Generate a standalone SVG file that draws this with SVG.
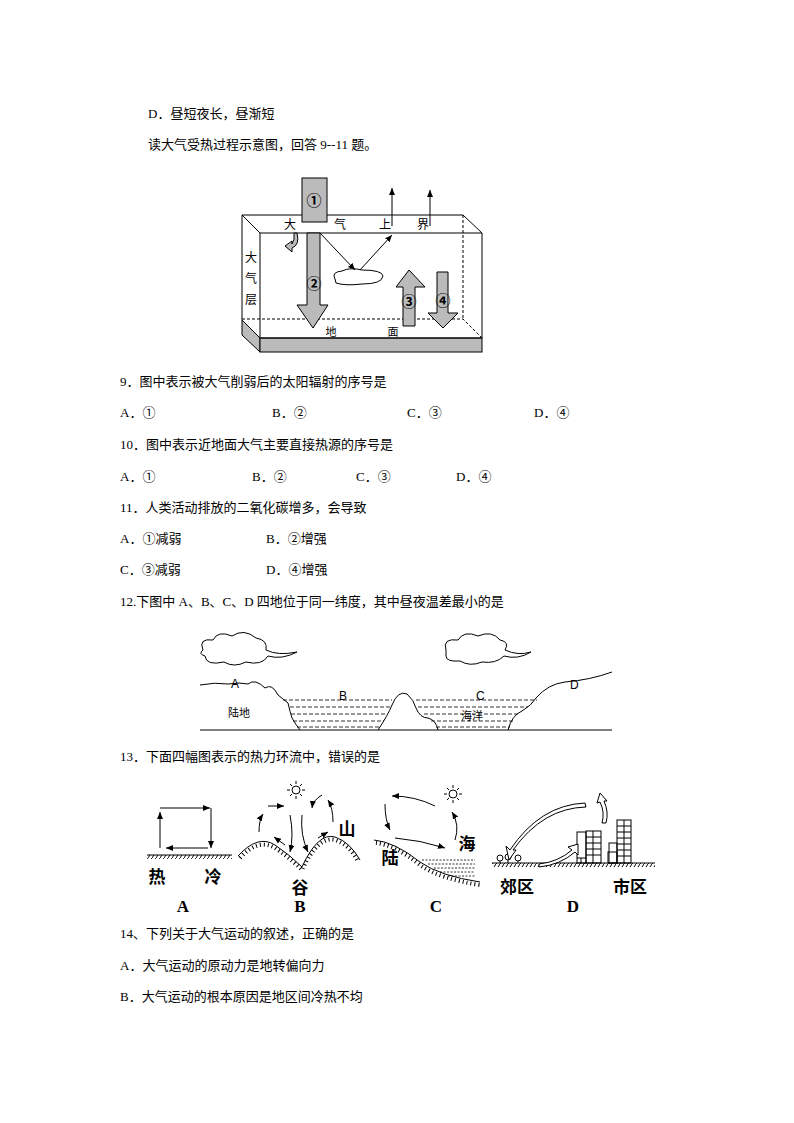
<svg xmlns="http://www.w3.org/2000/svg" width="794" height="1123" viewBox="0 0 794 1123">
<defs>
<style>
.t{font-family:"Liberation Serif","Noto Sans CJK SC",serif;font-size:13px;fill:#000}
.s{font-family:"Liberation Sans","Noto Sans CJK SC",sans-serif;fill:#000}
.b{font-family:"Liberation Serif","Noto Sans CJK SC",serif;font-weight:bold;fill:#000}
.l{fill:none;stroke:#000;stroke-width:1}
.g{fill:#bbb;stroke:#000;stroke-width:1}
.h{fill:none;stroke:#000;stroke-width:4;stroke-dasharray:1,3}
</style>
<marker id="ah" markerWidth="8" markerHeight="8" refX="7" refY="4" orient="auto" markerUnits="userSpaceOnUse"><path d="M0,1 L7,4 L0,7 z" fill="#000"/></marker>
<pattern id="hat" width="4" height="6" patternUnits="userSpaceOnUse"><path d="M0,6 L4,0" stroke="#000" stroke-width="1"/></pattern>
</defs>
<rect width="794" height="1123" fill="#fff"/>
<g id="texts">
<text class="t" x="148" y="118">D．昼短夜长，昼渐短</text>
<text class="t" x="148" y="149">读大气受热过程示意图，回答 9--11 题。</text>
<text class="t" x="120" y="386">9．图中表示被大气削弱后的太阳辐射的序号是</text>
<text class="t" x="120" y="417">A．①</text><text class="t" x="272" y="417">B．②</text><text class="t" x="407" y="417">C．③</text><text class="t" x="534" y="417">D．④</text>
<text class="t" x="120" y="449">10．图中表示近地面大气主要直接热源的序号是</text>
<text class="t" x="120" y="481">A．①</text><text class="t" x="252" y="481">B．②</text><text class="t" x="356" y="481">C．③</text><text class="t" x="456" y="481">D．④</text>
<text class="t" x="120" y="512">11．人类活动排放的二氧化碳增多，会导致</text>
<text class="t" x="120" y="543">A．①减弱</text><text class="t" x="266" y="543">B．②增强</text>
<text class="t" x="120" y="574">C．③减弱</text><text class="t" x="266" y="574">D．④增强</text>
<text class="t" x="120" y="606">12.下图中 A、B、C、D 四地位于同一纬度，其中昼夜温差最小的是</text>
<text class="t" x="120" y="761">13．下面四幅图表示的热力环流中，错误的是</text>
<text class="t" x="120" y="938">14、下列关于大气运动的叙述，正确的是</text>
<text class="t" x="120" y="970">A．大气运动的原动力是地转偏向力</text>
<text class="t" x="120" y="1001">B．大气运动的根本原因是地区间冷热不均</text>
</g>
<g id="fig1">
<path class="l" d="M242,215 L463,215 L482,233 L260,233 Z"/>
<path class="l" d="M242,215 L242,320 L260,338 L260,233"/>
<path d="M242,320 L260,338 L260,352 L242,335 Z" class="g"/>
<rect x="260" y="338" width="222" height="14" class="g"/>
<path class="l" d="M260,338 L482,338 L482,233"/>
<path class="l" stroke-dasharray="3,2" d="M242,319 L463,319 L482,338 M463,215 L463,319"/>
<rect x="302" y="178" width="25" height="44" class="g"/>
<path class="g" d="M307,233 L320,233 L320,305 L328,305 L313,328 L297,305 L307,305 Z"/>
<path class="g" d="M297,233 Q300,245 292,248 L292,252 L285,246 L292,241 L292,244 Q295,240 294,233 Z"/>
<path class="g" d="M403,326 L415,326 L415,287 L425,287 L409,270 L396,287 L403,287 Z"/>
<path class="g" d="M437,272 L448,272 L448,313 L458,313 L443,328 L428,313 L437,313 Z"/>
<path class="l" d="M320,233 L355,270" marker-end="url(#ah)"/>
<path class="l" d="M360,270 L392,235" marker-end="url(#ah)"/>
<path class="l" d="M392,226 L392,188" marker-end="url(#ah)"/>
<path class="l" stroke-width="2" d="M430,226 L430,190" marker-end="url(#ah)"/>
<path class="l" fill="#fff" d="M335,279 Q331,272 342,271 Q350,267 362,270 Q382,270 383,276 Q382,284 362,284 Q345,286 336,283 Z"/>
<g class="s" font-size="12" text-anchor="middle">
<text x="290" y="229">大</text><text x="340" y="229">气</text><text x="385" y="229">上</text><text x="423" y="229">界</text>
<text x="251" y="262">大</text><text x="251" y="283">气</text><text x="251" y="304">层</text>
<text x="331" y="336" font-size="11">地</text><text x="393" y="336" font-size="11">面</text>
<g font-size="15" font-weight="bold"><text x="314" y="206">①</text><text x="314" y="289">②</text><text x="409" y="307">③</text><text x="443" y="306">④</text></g>
</g>
</g>
<g id="fig2">
<path class="l" d="M203,650 Q198,638 213,640 Q218,630 232,636 Q244,628 256,638 Q268,640 266,650 Q278,656 297,652 Q282,660 268,656 Q262,666 246,662 Q234,668 224,662 Q206,666 205,656 Q198,654 203,650 Z"/>
<path class="l" d="M446,650 Q442,638 458,640 Q464,630 478,636 Q492,630 500,640 Q510,642 505,650 Q518,656 531,652 Q518,660 504,656 Q496,664 482,662 Q470,667 460,661 Q446,662 446,656 Z"/>
<path class="l" d="M200,730 L612,730" stroke="#555" stroke-width="1.5"/>
<path class="l" d="M200,685 Q215,682 228,684 Q240,682 248,684 Q255,678 265,688 Q272,683 278,695 L288,703 Q290,712 292,718 Q296,725 300,730"/>
<path class="l" d="M378,730 Q388,715 392,705 Q398,690 407,694 Q414,700 416,708 Q420,718 428,718 Q436,720 438,730"/>
<path class="l" d="M508,730 Q512,715 522,711 Q532,705 536,698 Q548,684 565,682 Q590,680 612,672"/>
<g stroke="#000" stroke-dasharray="4,2" stroke-width="0.8">
<path d="M283,700 L392,700 M416,700 L537,700 M290,707 L390,707 M418,707 L528,707 M291,714 L387,714 M424,714 L518,714 M293,721 L384,721 M431,721 L513,721 M297,727 L380,727 M436,727 L510,727"/>
</g>
<g class="s" font-size="12">
<text x="231" y="688">A</text><text x="339" y="700">B</text><text x="476" y="700">C</text><text x="570" y="689">D</text>
<text x="228" y="717" font-size="11">陆地</text><text x="461" y="720" font-size="11">海洋</text>
</g>
</g>
<g id="fig3">
<rect x="147" y="855" width="85" height="4" fill="url(#hat)"/><path class="l" d="M147,855 L232,855"/>
<path class="l" d="M160,848 L160,812" marker-end="url(#ah)"/>
<path class="l" d="M160,808 L210,808" marker-end="url(#ah)"/>
<path class="l" d="M211,808 L211,848" marker-end="url(#ah)"/>
<path class="l" stroke-width="2" d="M208,848 L166,848" marker-end="url(#ah)"/>
<g class="b" font-size="17" text-anchor="middle">
<text x="157" y="883">热</text><text x="213" y="883">冷</text><text x="183" y="912">A</text>
<text x="300" y="894">谷</text><text x="347" y="835">山</text><text x="300" y="912">B</text>
<text x="390" y="864">陆</text><text x="467" y="850">海</text><text x="436" y="912">C</text>
<text x="517" y="893">郊区</text><text x="630" y="893">市区</text><text x="573" y="912">D</text>
</g>
<path class="l" d="M238,856 Q258,834 275,845 Q290,855 302,867 Q318,832 335,837 Q350,842 360,860"/>
<path class="h" d="M240,858 Q258,838 275,848 Q290,858 302,870 Q318,836 335,840 Q350,845 358,862"/>
<g stroke="#000" fill="none">
<circle cx="296" cy="790" r="4"/>
<path d="M296,781 v3 M296,796 v3 M287,790 h3 M302,790 h3 M290,784 l2,2 M300,794 l2,2 M302,784 l-2,2 M290,796 l2,-2"/>
<circle cx="453" cy="794" r="4"/>
<path d="M453,785 v3 M453,800 v3 M444,794 h3 M459,794 h3 M447,788 l2,2 M457,798 l2,2 M459,788 l-2,2 M447,800 l2,-2"/>
</g>
<g class="l" stroke-width="1.5">
<path d="M259,832 Q259,820 263,814" marker-end="url(#ah)"/>
<path d="M268,806 L284,806" marker-end="url(#ah)"/>
<path d="M290,815 Q294,835 290,852" marker-end="url(#ah)"/>
<path d="M302,815 Q300,835 308,852" marker-end="url(#ah)"/>
<path d="M285,845 L274,837" marker-end="url(#ah)"/>
<path d="M318,838 L328,832" marker-end="url(#ah)"/>
<path d="M333,822 Q333,808 328,800" marker-end="url(#ah)"/>
<path d="M322,795 Q313,800 312,808" marker-end="url(#ah)"/>
<path d="M385,804 Q385,820 390,830" marker-end="url(#ah)"/>
<path d="M395,838 Q420,840 445,848" marker-end="url(#ah)"/>
<path d="M455,840 Q460,825 452,812" marker-end="url(#ah)"/>
<path d="M435,806 Q415,796 392,796" marker-end="url(#ah)"/>
</g>
<path class="l" d="M374,840 Q395,842 420,862 Q440,876 480,882"/>
<path class="h" d="M376,843 Q395,845 420,865 Q440,879 480,885"/>
<g stroke="#000" stroke-dasharray="2,1.5" stroke-width="0.8"><path d="M422,860 L475,860 M428,864 L475,864 M434,868 L475,868 M440,872 L475,872 M448,876 L475,876"/></g>
<rect x="492" y="863" width="163" height="4" fill="url(#hat)"/><path class="l" d="M492,863 L655,863"/>
<g class="l"><rect x="577" y="832" width="9" height="31"/><rect x="586" y="831" width="15" height="32"/><rect x="608" y="852" width="9" height="11"/><rect x="609" y="843" width="8" height="20"/><rect x="617" y="820" width="14" height="43"/>
<path d="M586,837 h15 M586,843 h15 M586,849 h15 M586,855 h15 M593,831 v32 M617,826 h14 M617,832 h14 M617,838 h14 M617,844 h14 M617,850 h14 M617,856 h14 M624,820 v43 M577,858 h9 M581,858 v5"/></g>
<g class="l"><circle cx="500" cy="858" r="3"/><path d="M500,861 v2"/><circle cx="508" cy="857" r="3"/><path d="M508,860 v3"/><circle cx="518" cy="858" r="3"/><path d="M518,861 v2"/></g>
<g fill="#fff" stroke="#000">
<path d="M585,803 Q540,805 510,850 L506,846 L509,860 L516,850 L513,850 Q543,808 586,807 Z"/>
<path d="M539,867 Q560,865 575,852 L578,855 L578,844 L568,847 L572,850 Q558,862 539,864 Z"/>
<path d="M602,823 Q605,812 600,802 L597,803 L600,793 L607,801 L604,801 Q609,812 606,823 Z"/>
</g>
</g>
</svg>
